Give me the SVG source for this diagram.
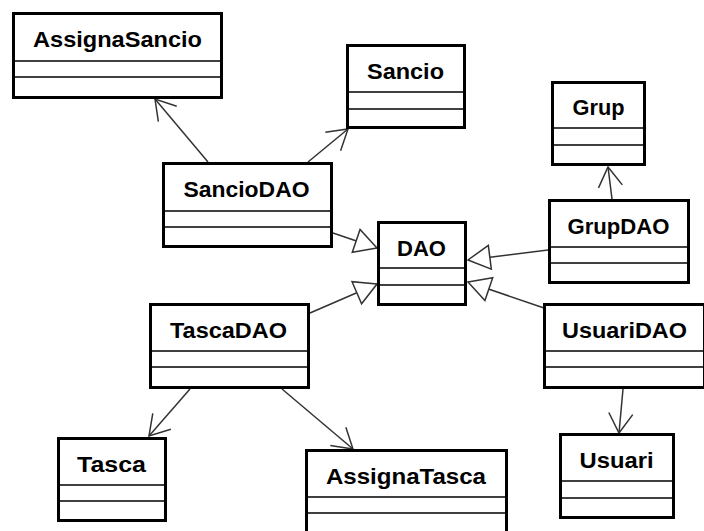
<svg xmlns="http://www.w3.org/2000/svg" width="704" height="531" viewBox="0 0 704 531">
  <style>
    .box { fill: #ffffff; stroke: #000000; stroke-width: 3; }
    .sep { stroke: #000000; stroke-width: 1.5; }
    .name { font-family: "Liberation Sans", Arial, sans-serif; font-weight: bold; font-size: 22px; fill: #000000; text-anchor: middle; }
    .link { fill: none; stroke: #333333; stroke-width: 1.5; }
  </style>
  <defs>
    <!-- navigable association: open arrowhead -->
    <marker id="open" markerUnits="userSpaceOnUse" viewBox="-22 -14 24 28" refX="0" refY="0" markerWidth="24" markerHeight="28" orient="auto" overflow="visible">
      <path d="M -19.5 -12 L 0 0 L -19.5 12" fill="none" stroke="#333333" stroke-width="1.5"/>
    </marker>
    <!-- generalization: hollow triangle -->
    <marker id="inherit" markerUnits="userSpaceOnUse" viewBox="-24 -14 26 28" refX="0" refY="0" markerWidth="26" markerHeight="28" orient="auto" overflow="visible">
      <path d="M 0 0 L -22 -12 L -22 12 Z" fill="#ffffff" stroke="#333333" stroke-width="1.5"/>
    </marker>
  </defs>

  <g id="connectors">
    <path class="link" d="M 208 162 L 155 99" marker-end="url(#open)"/>
    <path class="link" d="M 308 162 L 348 129" marker-end="url(#open)"/>
    <path class="link" d="M 333 233 L 377 248" marker-end="url(#inherit)"/>
    <path class="link" d="M 310 313 L 377 284" marker-end="url(#inherit)"/>
    <path class="link" d="M 548 250 L 468 260" marker-end="url(#inherit)"/>
    <path class="link" d="M 544 308 L 468 282" marker-end="url(#inherit)"/>
    <path class="link" d="M 612 199 L 608 167" marker-end="url(#open)"/>
    <path class="link" d="M 623 389 L 619 433" marker-end="url(#open)"/>
    <path class="link" d="M 190 389 L 149 436" marker-end="url(#open)"/>
    <path class="link" d="M 282 389 L 353 449" marker-end="url(#open)"/>
  </g>

  <g id="AssignaSancio">
    <rect class="box" x="13.5" y="13.5" width="208" height="84"/>
    <line class="sep" x1="13.5" y1="61" x2="221.5" y2="61"/>
    <line class="sep" x1="13.5" y1="77" x2="221.5" y2="77"/>
    <text class="name" x="117.5" y="47" textLength="169" lengthAdjust="spacingAndGlyphs">AssignaSancio</text>
  </g>

  <g id="Sancio">
    <rect class="box" x="347.5" y="45.5" width="117" height="82"/>
    <line class="sep" x1="347.5" y1="92" x2="464.5" y2="92"/>
    <line class="sep" x1="347.5" y1="109" x2="464.5" y2="109"/>
    <text class="name" x="405.5" y="79" textLength="77" lengthAdjust="spacingAndGlyphs">Sancio</text>
  </g>

  <g id="SancioDAO">
    <rect class="box" x="163.5" y="163.5" width="168" height="83"/>
    <line class="sep" x1="163.5" y1="211" x2="331.5" y2="211"/>
    <line class="sep" x1="163.5" y1="227" x2="331.5" y2="227"/>
    <text class="name" x="246.5" y="197" textLength="126" lengthAdjust="spacingAndGlyphs">SancioDAO</text>
  </g>

  <g id="DAO">
    <rect class="box" x="378.5" y="222.5" width="87" height="82"/>
    <line class="sep" x1="378.5" y1="268" x2="465.5" y2="268"/>
    <line class="sep" x1="378.5" y1="285" x2="465.5" y2="285"/>
    <text class="name" x="421.5" y="256" textLength="49" lengthAdjust="spacingAndGlyphs">DAO</text>
  </g>

  <g id="Grup">
    <rect class="box" x="552.5" y="82.5" width="92" height="82"/>
    <line class="sep" x1="552.5" y1="128" x2="644.5" y2="128"/>
    <line class="sep" x1="552.5" y1="145" x2="644.5" y2="145"/>
    <text class="name" x="598.5" y="115" textLength="52" lengthAdjust="spacingAndGlyphs">Grup</text>
  </g>

  <g id="GrupDAO">
    <rect class="box" x="549.5" y="200.5" width="139" height="82"/>
    <line class="sep" x1="549.5" y1="247" x2="688.5" y2="247"/>
    <line class="sep" x1="549.5" y1="263" x2="688.5" y2="263"/>
    <text class="name" x="618.5" y="234" textLength="102" lengthAdjust="spacingAndGlyphs">GrupDAO</text>
  </g>

  <g id="TascaDAO">
    <rect class="box" x="150.5" y="304.5" width="158" height="83"/>
    <line class="sep" x1="150.5" y1="351" x2="308.5" y2="351"/>
    <line class="sep" x1="150.5" y1="367" x2="308.5" y2="367"/>
    <text class="name" x="228.5" y="338" textLength="117" lengthAdjust="spacingAndGlyphs">TascaDAO</text>
  </g>

  <g id="UsuariDAO">
    <rect class="box" x="544.5" y="304.5" width="160" height="83"/>
    <line class="sep" x1="544.5" y1="351" x2="704.5" y2="351"/>
    <line class="sep" x1="544.5" y1="367" x2="704.5" y2="367"/>
    <text class="name" x="624.5" y="338" textLength="125" lengthAdjust="spacingAndGlyphs">UsuariDAO</text>
  </g>

  <g id="Tasca">
    <rect class="box" x="58.5" y="438.5" width="107" height="82"/>
    <line class="sep" x1="58.5" y1="485" x2="165.5" y2="485"/>
    <line class="sep" x1="58.5" y1="501" x2="165.5" y2="501"/>
    <text class="name" x="111.5" y="472" textLength="69" lengthAdjust="spacingAndGlyphs">Tasca</text>
  </g>

  <g id="AssignaTasca">
    <rect class="box" x="306.5" y="450.5" width="200" height="84"/>
    <line class="sep" x1="306.5" y1="497" x2="506.5" y2="497"/>
    <line class="sep" x1="306.5" y1="513" x2="506.5" y2="513"/>
    <text class="name" x="406" y="484" textLength="160" lengthAdjust="spacingAndGlyphs">AssignaTasca</text>
  </g>

  <g id="Usuari">
    <rect class="box" x="560.5" y="434.5" width="113" height="83"/>
    <line class="sep" x1="560.5" y1="481" x2="673.5" y2="481"/>
    <line class="sep" x1="560.5" y1="498" x2="673.5" y2="498"/>
    <text class="name" x="616.5" y="468" textLength="74" lengthAdjust="spacingAndGlyphs">Usuari</text>
  </g>
</svg>
